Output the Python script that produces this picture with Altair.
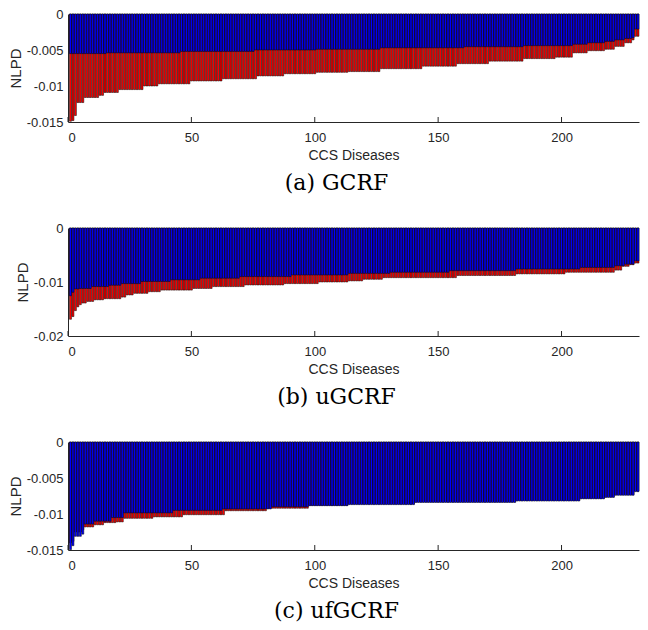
import altair as alt
import pandas as pd

# ---- values, run-length encoded: (count, value) ----
# Panel (a) GCRF
a_red_counts = [1, 1, 1, 3, 6, 2, 6, 10, 6, 13, 13, 14, 11, 13, 13, 13, 17, 14, 13, 14, 13, 7, 6, 7, 4, 4, 3, 1, 2]
a_red_vals = [-0.0149, -0.0148, -0.0141, -0.0123, -0.0116, -0.0113, -0.0109, -0.0105, -0.0100, -0.0097,
              -0.0093, -0.0090, -0.0086, -0.0083, -0.0081, -0.0080, -0.0076, -0.00725, -0.0069, -0.00655,
              -0.0062, -0.0060, -0.0054, -0.0051, -0.0049, -0.0045, -0.0040, -0.0036, -0.0031]
a_blue_counts = [15, 30, 30, 25, 26, 34, 24, 20, 6, 7, 4, 4, 3, 1, 2]
a_blue_vals = [-0.0055, -0.0054, -0.0052, -0.0050, -0.0049, -0.0047, -0.00455, -0.0044, -0.0042, -0.0040,
               -0.0038, -0.0036, -0.0034, -0.0033, -0.0021]

# Panel (b) uGCRF
b_red_counts = [1, 1, 1, 1, 1, 2, 3, 4, 7, 2, 3, 6, 5, 13, 8, 13, 16, 14, 12, 6, 8, 30, 24, 20, 20, 3, 3, 2, 2]
b_red_vals = [-0.0169, -0.0164, -0.0153, -0.0146, -0.0142, -0.0139, -0.0136, -0.0133, -0.0131, -0.0128,
              -0.0124, -0.0121, -0.0118, -0.0115, -0.0112, -0.01085, -0.01055, -0.0103, -0.0100, -0.0098,
              -0.0095, -0.0092, -0.0088, -0.0085, -0.0082, -0.0078, -0.0071, -0.0068, -0.0065]
b_blue_counts = [1, 1, 2, 5, 7, 5, 8, 12, 12, 16, 21, 23, 17, 24, 27, 26, 14, 4, 4, 2]
b_blue_vals = [-0.01255, -0.0119, -0.0113, -0.0112, -0.01085, -0.0106, -0.0103, -0.0099, -0.0096, -0.0093,
               -0.0090, -0.0087, -0.0084, -0.0082, -0.0079, -0.0076, -0.0073, -0.0070, -0.0067, -0.0061]

# Panel (c) ufGCRF
c_red_counts = [1, 1, 3, 1, 4, 4, 5, 3, 12, 12, 17, 17, 17, 16, 27, 41, 26, 10, 4, 8, 2]
c_red_vals = [-0.0140, -0.0138, -0.0125, -0.0122, -0.0118, -0.0115, -0.0112, -0.0111, -0.0106, -0.0104,
              -0.0101, -0.00955, -0.0092, -0.0088, -0.0086, -0.0083, -0.0081, -0.0078, -0.0076, -0.0073, -0.0068]
c_blue_counts = [1, 1, 3, 1, 4, 7, 5, 20, 20, 20, 15, 16, 27, 41, 26, 10, 4, 8, 2]
c_blue_vals = [-0.01495, -0.0144, -0.0131, -0.0128, -0.0114, -0.0110, -0.0105, -0.00985, -0.0095, -0.0093,
               -0.0090, -0.00885, -0.0087, -0.0084, -0.0082, -0.0079, -0.0077, -0.0074, -0.0069]

x_ticks = [0, 50, 100, 150, 200]
a_yticks = [0, -0.005, -0.01, -0.015]
b_yticks = [0, -0.01, -0.02]
c_yticks = [0, -0.005, -0.01, -0.015]
captions = ["(a) GCRF", "(b) uGCRF", "(c) ufGCRF"]

W = 571
H = 108
TXT = "#262626"


def expand(counts, vals):
    out = []
    for c, v in zip(counts, vals):
        out += [v] * c
    return out


def axes(yticks):
    xaxis = alt.Axis(values=x_ticks, title="CCS Diseases", grid=False, ticks=False, tickSize=0,
                     labelFont="Liberation Sans", labelFontSize=13, labelColor=TXT, labelPadding=9,
                     titleFont="Liberation Sans", titleFontSize=14, titleFontWeight="normal",
                     titleColor=TXT, titlePadding=4, domainColor=TXT, domainWidth=1)
    yaxis = alt.Axis(values=yticks, title="NLPD", grid=False, ticks=False, tickSize=0,
                     labelExpr="'' + datum.value",
                     labelFont="Liberation Sans", labelFontSize=13, labelColor=TXT, labelPadding=5,
                     titleFont="Liberation Sans", titleFontSize=15, titleFontWeight="normal",
                     titleColor=TXT, titlePadding=3, domainColor=TXT, domainWidth=1)
    return xaxis, yaxis


def bars(vals, color, ymin, yticks):
    xaxis, yaxis = axes(yticks)
    df = pd.DataFrame({"disease": list(range(1, len(vals) + 1)), "nlpd": vals})
    return alt.Chart(df).mark_bar(color=color, stroke="black", strokeWidth=0.5).transform_calculate(
        lo="datum.disease - 0.4", hi="datum.disease + 0.4", zero="0"
    ).encode(
        x=alt.X("lo:Q", scale=alt.Scale(domain=[0, 231.4], nice=False, zero=False), axis=xaxis),
        x2="hi:Q",
        y=alt.Y("nlpd:Q", scale=alt.Scale(domain=[ymin, 0], nice=False), axis=yaxis),
        y2="zero:Q",
    )


def panel(red, blue, ymin, yticks, caption):
    xaxis, yaxis = axes(yticks)
    tick_df = pd.DataFrame({"t": x_ticks})
    ticks = alt.Chart(tick_df).mark_rule(color=TXT, strokeWidth=1).encode(
        x=alt.X("t:Q", scale=alt.Scale(domain=[0, 231.4], nice=False, zero=False), axis=xaxis),
        y=alt.value(H),
        y2=alt.value(H - 5),
    )
    return alt.layer(
        bars(red, "#ff0000", ymin, yticks),
        bars(blue, "#0000ff", ymin, yticks),
        ticks,
    ).properties(
        width=W, height=H,
        title=alt.TitleParams(text=caption, orient="bottom", anchor="middle", font="DejaVu Serif",
                              fontSize=22, fontWeight="normal", color="black", offset=11, dx=-17),
    )


pa = panel(expand(a_red_counts, a_red_vals), expand(a_blue_counts, a_blue_vals), -0.015, a_yticks, captions[0])
pb = panel(expand(b_red_counts, b_red_vals), expand(b_blue_counts, b_blue_vals), -0.02, b_yticks, captions[1])
pc = panel(expand(c_red_counts, c_red_vals), expand(c_blue_counts, c_blue_vals), -0.015, c_yticks, captions[2])

chart = alt.vconcat(pa, pb, pc, spacing=28).properties(
    padding={"left": 0, "top": 0, "right": 0, "bottom": 0}
).configure_view(stroke=None)

chart.save("out.html", embed_options={"renderer": "svg", "actions": False})
